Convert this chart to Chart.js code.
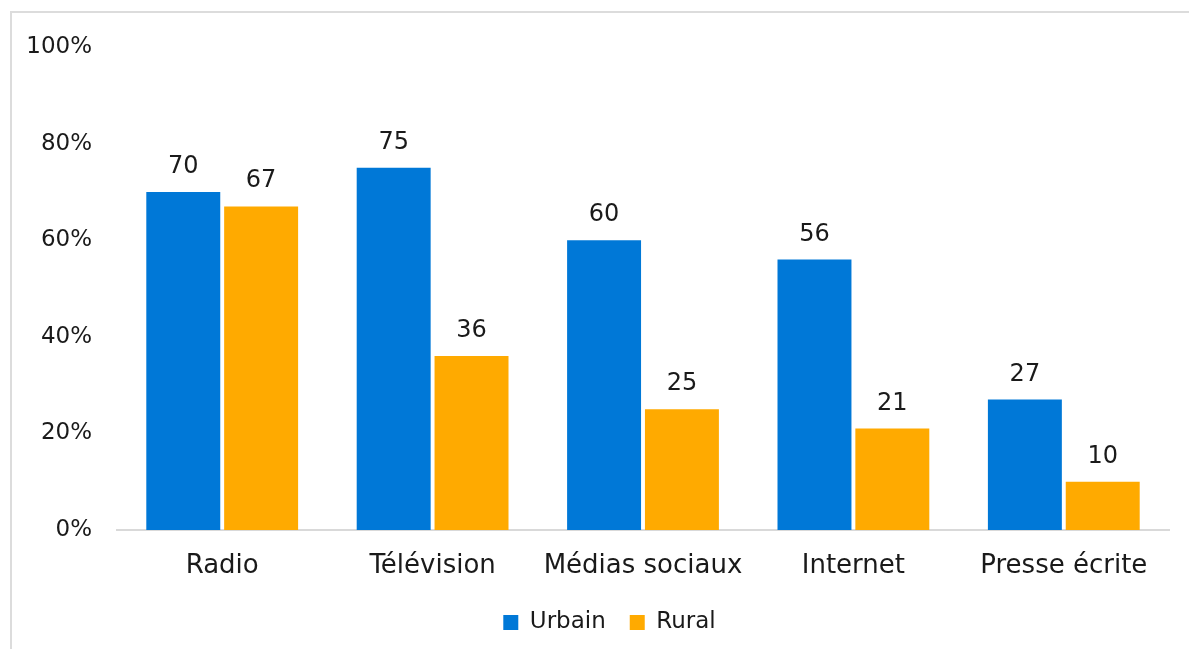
<!DOCTYPE html>
<html>
<head>
<meta charset="utf-8">
<script src="https://cdn.jsdelivr.net/npm/chart.js@4/dist/chart.umd.min.js"></script>
<style>
  html, body { margin: 0; padding: 0; background: #fff; }
  #wrap { position: relative; width: 1189px; height: 649px; }
</style>
</head>
<body>
<div id="wrap"><canvas id="c" width="1189" height="649"></canvas></div>
<script>
const categories = ['Radio', 'Télévision', 'Médias sociaux', 'Internet', 'Presse écrite'];
const urbainValues = [70, 75, 60, 56, 27];
const ruralValues = [67, 36, 25, 21, 10];
const seriesNames = ['Urbain', 'Rural'];
const yTicks = [0, 20, 40, 60, 80, 100];

const FONT = "'DejaVu Sans', sans-serif";
const TEXT = '#1a1a1a';
const LABEL_SIZE = 26;
const LEGEND_SIZE = 23;
const NUMBER_SIZE = 23;
const VALUE_SIZE = 24;

// Light frame along the top and left edges of the figure
const framePlugin = {
  id: 'frame',
  beforeDraw(chart) {
    const ctx = chart.ctx;
    ctx.save();
    ctx.strokeStyle = '#dcdcdc';
    ctx.lineWidth = 2;
    ctx.beginPath();
    ctx.moveTo(11, chart.height);
    ctx.lineTo(11, 12);
    ctx.lineTo(chart.width, 12);
    ctx.stroke();
    ctx.restore();
  }
};

// Nudge the legend block a little to the right of the canvas centre
const legendShift = {
  id: 'legendShift',
  afterLayout(chart) {
    if (chart.legend) {
      chart.legend.left += 25;
      chart.legend.right += 25;
    }
  }
};

// Value labels drawn above each bar
const valueLabels = {
  id: 'valueLabels',
  afterDatasetsDraw(chart) {
    const ctx = chart.ctx;
    ctx.save();
    ctx.font = VALUE_SIZE + 'px ' + FONT;
    ctx.fillStyle = TEXT;
    ctx.textAlign = 'center';
    ctx.textBaseline = 'alphabetic';
    chart.data.datasets.forEach((ds, i) => {
      chart.getDatasetMeta(i).data.forEach((bar, j) => {
        ctx.fillText(String(ds.data[j]), bar.x, bar.y - 19);
      });
    });
    ctx.restore();
  }
};

new Chart(document.getElementById('c'), {
  type: 'bar',
  data: {
    labels: categories,
    datasets: [
      { label: seriesNames[0], data: urbainValues, backgroundColor: '#0078D7' },
      { label: seriesNames[1], data: ruralValues, backgroundColor: '#FFAA00' }
    ]
  },
  options: {
    responsive: false,
    animation: false,
    devicePixelRatio: 1,
    layout: { padding: { top: 47, right: 20, bottom: 5, left: 0 } },
    datasets: {
      bar: { categoryPercentage: 0.74, barPercentage: 0.95 }
    },
    scales: {
      x: {
        afterFit(scale) { scale.height = 57; },
        grid: { display: false, drawTicks: false },
        border: { display: true, color: '#d9d9d9', width: 2 },
        ticks: { color: TEXT, font: { family: FONT, size: LABEL_SIZE }, padding: 21 }
      },
      y: {
        min: 0,
        max: 100,
        afterFit(scale) { scale.width = 117; },
        afterBuildTicks(scale) { scale.ticks = yTicks.map(v => ({ value: v })); },
        grid: { display: false, drawTicks: false },
        border: { display: false },
        ticks: {
          color: TEXT,
          font: { family: FONT, size: NUMBER_SIZE },
          padding: 25,
          callback: v => v + '%'
        }
      }
    },
    plugins: {
      legend: {
        position: 'bottom',
        labels: {
          color: TEXT,
          font: { family: FONT, size: LEGEND_SIZE },
          boxWidth: 15,
          boxHeight: 15,
          padding: 24
        }
      },
      tooltip: { enabled: false }
    }
  },
  plugins: [framePlugin, legendShift, valueLabels]
});
</script>
</body>
</html>
